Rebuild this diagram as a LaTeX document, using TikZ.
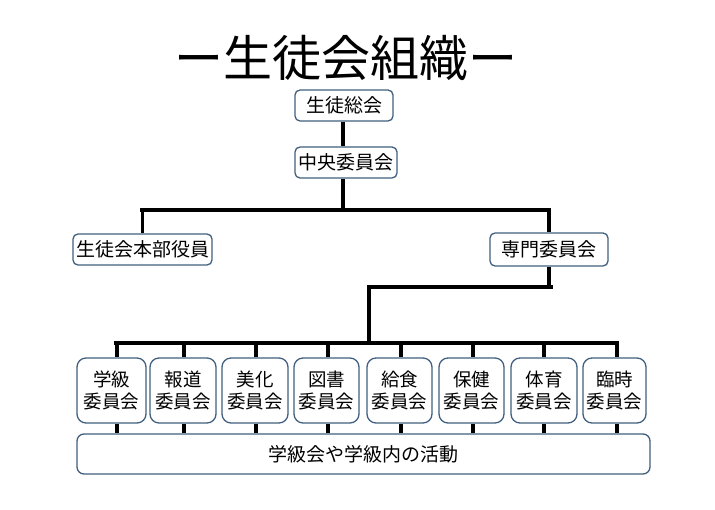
\documentclass[tikz,border=0pt]{standalone}
\usepackage{fontspec}
\setmainfont{Noto Sans CJK JP}
\begin{document}
\begin{tikzpicture}[x=1pt,y=-1pt,
  box/.style={draw=boxc,line width=1.3pt,fill=white,rounded corners=5pt,inner sep=0pt,
    font=\fontsize{19}{22}\selectfont,align=center},
  tall/.style={box,rounded corners=9pt,minimum height=65pt,font=\fontsize{18.5}{22}\selectfont},
  conn/.style={line width=3.3pt},
  bar/.style={line width=4pt}]
\definecolor{boxc}{HTML}{41607F}
\useasboundingbox[fill=white] (0,0) rectangle (715,510);
% title
\node[font=\fontsize{49}{50}\selectfont,inner sep=0pt] (title) at (345.5,58) {ー生徒会組織ー};
% upper boxes
\node[box,minimum width=98pt,minimum height=31pt] (sokai) at (344,105.5) {生徒総会};
\node[box,minimum width=102pt,minimum height=31pt] (chuo) at (346,162.5) {中央委員会};
\node[box,minimum width=139pt,minimum height=31pt] (honbu) at (142.5,249.5) {生徒会本部役員};
\node[box,minimum width=118pt,minimum height=33pt] (senmon) at (549,249.5) {専門委員会};
% committee boxes
\node[tall,minimum width=69pt] (k1) at (111.5,390.5) {学級\\委員会};
\node[tall,minimum width=66pt] (k2) at (183,390.5) {報道\\委員会};
\node[tall,minimum width=66pt] (k3) at (255,390.5) {美化\\委員会};
\node[tall,minimum width=65pt] (k4) at (326.5,390.5) {図書\\委員会};
\node[tall,minimum width=65pt] (k5) at (399.5,390.5) {給食\\委員会};
\node[tall,minimum width=65pt] (k6) at (471.5,390.5) {保健\\委員会};
\node[tall,minimum width=66pt] (k7) at (544,390.5) {体育\\委員会};
\node[tall,minimum width=63pt] (k8) at (614.5,390.5) {臨時\\委員会};
\node[box,rounded corners=7pt,minimum width=573pt,minimum height=40pt] (act) at (363.5,454) {学級会や学級内の活動};
% junction coordinates
\coordinate (t1) at (343,210);
\coordinate (b1l) at (140,210);
\coordinate (b1r) at (551,210);
\coordinate (b2l) at (367,287);
\coordinate (b2r) at (553,287);
\coordinate (t2) at (369,287);
\coordinate (b3l) at (114,343);
\coordinate (b3r) at (619,343);
% connectors
\draw[conn] (sokai.south -| t1) -- (chuo.north -| t1);
\draw[conn] (chuo.south -| t1) -- (t1);
\draw[bar] (b1l) -- (b1r);
\draw[conn] (honbu.north |- b1l) -- (honbu.north);
\draw[conn] (senmon.north |- b1r) -- (senmon.north);
\draw[conn] (senmon.south) -- (senmon.south |- b2r);
\draw[bar] (b2l) -- (b2r);
\draw[conn] (t2) -- (t2 |- b3l);
\draw[bar] (b3l) -- (b3r);
\foreach \k/\s in {k1/5.5,k2/1,k3/1,k4/1.5,k5/1.5,k6/1.5,k7/0,k8/2.5}{
  \draw[conn] ([xshift=\s pt]\k.north |- b3l) -- ([xshift=\s pt]\k.north);
  \draw[conn] ([xshift=\s pt]\k.south) -- ([xshift=\s pt]\k.south |- act.north);
}
\end{tikzpicture}
\end{document}
